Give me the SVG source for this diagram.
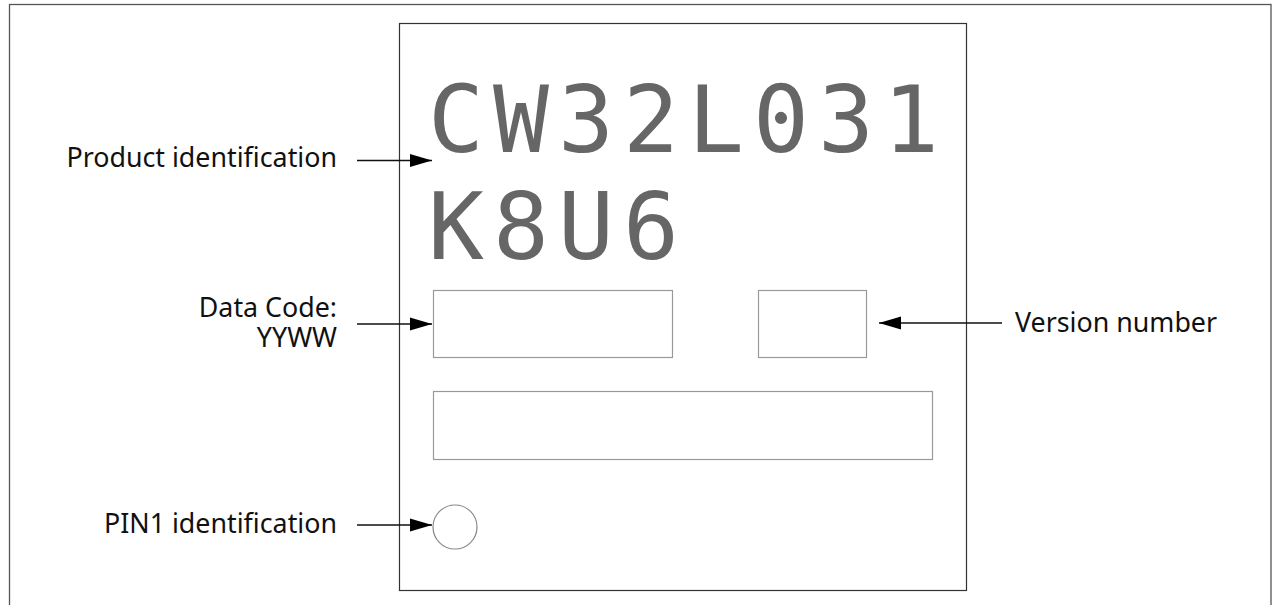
<svg xmlns="http://www.w3.org/2000/svg" width="1277" height="605" viewBox="0 0 1277 605">
  <style>
    .lbl { font-family: "Noto Sans", "Open Sans", sans-serif; font-size: 26.8px; fill: #111; }
    .mark { font-family: "DejaVu Sans Mono", "Liberation Mono", monospace; font-size: 93px; fill: #666; }
    .field { fill: none; stroke: #999; stroke-width: 1.2; }
    .conn { stroke: #111; stroke-width: 1.3; fill: none; }
  </style>
  <defs>
    <marker id="arr" markerUnits="userSpaceOnUse" markerWidth="22" markerHeight="14" refX="22" refY="7" orient="auto">
      <path d="M0,0.5 L22,7 L0,13.5 z" fill="#000"/>
    </marker>
  </defs>
  <rect width="1277" height="605" fill="#fff"/>
  <g id="frame">
    <rect x="9.5" y="4.5" width="1261.5" height="640" fill="none" stroke="#555" stroke-width="1.3"/>
  </g>
  <g id="chip">
    <rect x="399.5" y="23.5" width="567" height="567" fill="none" stroke="#333" stroke-width="1.2"/>
    <text class="mark" x="428 493 558 623 688 753 818 883" y="152">CW32L031</text>
    <text class="mark" x="428 493 558 623" y="259">K8U6</text>
  </g>
  <g id="date-code-field">
    <rect class="field" x="433.5" y="290.5" width="239" height="67"/>
  </g>
  <g id="version-field">
    <rect class="field" x="758.5" y="290.5" width="108" height="67"/>
  </g>
  <g id="blank-field">
    <rect class="field" x="433.5" y="391.5" width="499" height="68"/>
  </g>
  <g id="pin1-mark">
    <circle cx="455" cy="527" r="22" fill="none" stroke="#888" stroke-width="1.2"/>
  </g>
  <g id="label-product">
    <text class="lbl" x="337" y="167" text-anchor="end">Product identification</text>
  </g>
  <g id="label-date">
    <text class="lbl" x="337" y="317" text-anchor="end">Data Code:</text>
    <text class="lbl" x="337" y="347" text-anchor="end">YYWW</text>
  </g>
  <g id="label-version">
    <text class="lbl" x="1015" y="332">Version number</text>
  </g>
  <g id="label-pin1">
    <text class="lbl" x="337" y="533" text-anchor="end">PIN1 identification</text>
  </g>
  <g id="connectors">
    <line class="conn" x1="357" y1="160.5" x2="432" y2="160.5" marker-end="url(#arr)"/>
    <line class="conn" x1="357" y1="324" x2="432" y2="324" marker-end="url(#arr)"/>
    <line class="conn" x1="1002" y1="323" x2="879" y2="323" marker-end="url(#arr)"/>
    <line class="conn" x1="357" y1="525" x2="432" y2="525" marker-end="url(#arr)"/>
  </g>
</svg>
